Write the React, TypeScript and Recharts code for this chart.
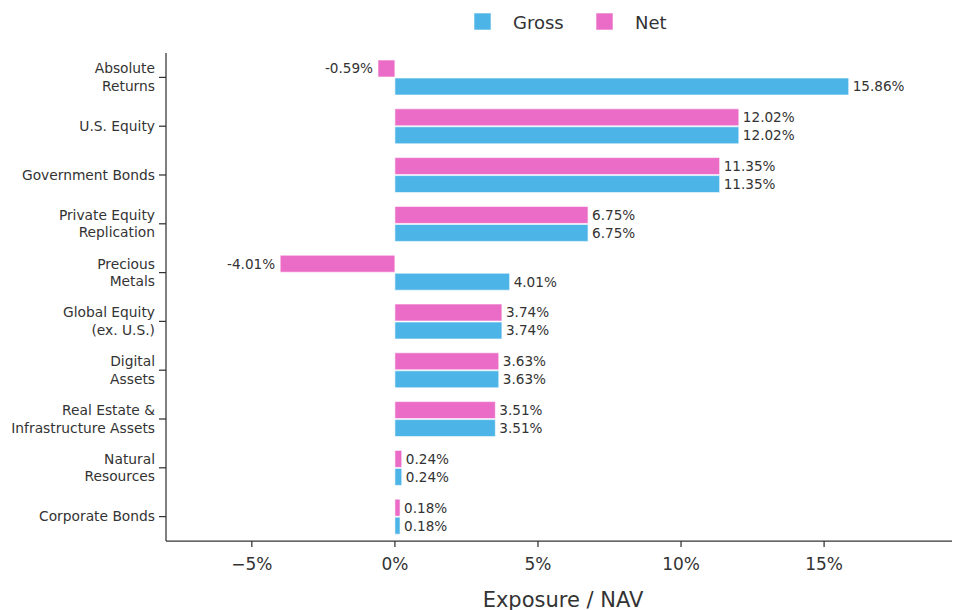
import React from 'react';
import { BarChart, Bar, XAxis, YAxis, Legend, LabelList } from 'recharts';

const categories = [
  'Absolute\nReturns',
  'U.S. Equity',
  'Government Bonds',
  'Private Equity\nReplication',
  'Precious\nMetals',
  'Global Equity\n(ex. U.S.)',
  'Digital\nAssets',
  'Real Estate &\nInfrastructure Assets',
  'Natural\nResources',
  'Corporate Bonds',
];
const grossValues = [15.86, 12.02, 11.35, 6.75, 4.01, 3.74, 3.63, 3.51, 0.24, 0.18];
const netValues = [-0.59, 12.02, 11.35, 6.75, -4.01, 3.74, 3.63, 3.51, 0.24, 0.18];
const xTicks = [-5, 0, 5, 10, 15];

const data = categories.map((c, i) => ({ category: c, gross: grossValues[i], net: netValues[i] }));

const FONT = '"DejaVu Sans", sans-serif';
const TEXT = '#333333';
const BLUE = '#4DB4E7';
const PINK = '#EB6CC6';

const YTick = (props: any) => {
  const { x, y, payload } = props;
  const lines = String(payload.value).split('\n');
  const lh = 17.7;
  const first = y + 4.8 - ((lines.length - 1) * lh) / 2;
  return (
    <text x={x} y={first} textAnchor="end" fontSize={13.8} fill={TEXT} fontFamily={FONT}>
      {lines.map((l, i) => (
        <tspan key={i} x={x} y={first + i * lh}>
          {l}
        </tspan>
      ))}
    </text>
  );
};

const fmtTick = (v: number) => (v < 0 ? '\u2212' + Math.abs(v) + '%' : v + '%');

const ValueLabel = (props: any) => {
  const { x, y, width, height, value } = props;
  const left = Math.min(x, x + width);
  const right = Math.max(x, x + width);
  const cy = y + height / 2;
  const txt = value.toFixed(2) + '%';
  if (value < 0) {
    return (
      <text x={left - 5} y={cy} dy="0.36em" textAnchor="end" fontSize={13.6} fill={TEXT} fontFamily={FONT}>
        {txt}
      </text>
    );
  }
  return (
    <text x={right + 4} y={cy} dy="0.36em" textAnchor="start" fontSize={13.6} fill={TEXT} fontFamily={FONT}>
      {txt}
    </text>
  );
};

const LegendContent = () => (
  <svg width={954} height={45} style={{ display: 'block' }}>
    <rect x={474} y={13} width={17} height={17} fill={BLUE} stroke="rgba(255,255,255,0.6)" />
    <text x={513} y={29} fontSize={18} fill={TEXT} fontFamily={FONT}>Gross</text>
    <rect x={596} y={13} width={17} height={17} fill={PINK} stroke="rgba(255,255,255,0.6)" />
    <text x={635} y={29} fontSize={18} fill={TEXT} fontFamily={FONT}>Net</text>
  </svg>
);

const AxisTitle = (props: any) => {
  const vb = props.viewBox || {};
  const cx = (vb.x || 0) + (vb.width || 0) / 2 + 4;
  return (
    <text x={cx} y={606.5} textAnchor="middle" fontSize={21} fill={TEXT} fontFamily={FONT}>
      Exposure / NAV
    </text>
  );
};

export default function App() {
  return (
    <div style={{ position: 'absolute', left: 0, top: 0, width: 954, height: 610, background: '#fff' }}>
      <BarChart
        layout="vertical"
        width={954}
        height={610}
        data={data}
        margin={{ top: 53, right: 2, bottom: 0, left: 0 }}
        barGap={1}
        barSize={17}
        style={{ fontFamily: FONT }}
      >
        <Legend
          layout="horizontal"
          verticalAlign="middle"
          content={<LegendContent />}
          wrapperStyle={{ top: 0, left: 0, width: 954, height: 45 }}
        />
        <XAxis
          type="number"
          domain={[-8, 19.47]}
          ticks={xTicks}
          allowDataOverflow
          height={69}
          tickSize={6}
          tickMargin={11}
          tickFormatter={fmtTick}
          stroke={TEXT}
          strokeWidth={1.25}
          tick={{ fontSize: 17, fill: TEXT, fontFamily: FONT }}
          label={<AxisTitle />}
        />
        <YAxis
          type="category"
          dataKey="category"
          width={166}
          interval={0}
          tickSize={7}
          tickMargin={4}
          stroke={TEXT}
          strokeWidth={1.25}
          tick={<YTick />}
        />
        <Bar dataKey="net" name="Net" fill={PINK} stroke="rgba(255,255,255,0.6)" strokeWidth={1} isAnimationActive={false}>
          <LabelList dataKey="net" content={<ValueLabel />} />
        </Bar>
        <Bar dataKey="gross" name="Gross" fill={BLUE} stroke="rgba(255,255,255,0.6)" strokeWidth={1} isAnimationActive={false}>
          <LabelList dataKey="gross" content={<ValueLabel />} />
        </Bar>
      </BarChart>
    </div>
  );
}
